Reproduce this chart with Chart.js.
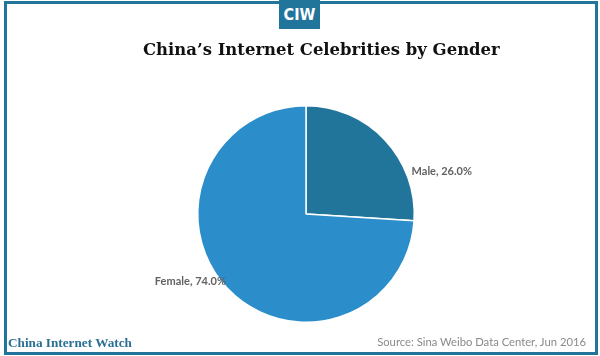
<!DOCTYPE html>
<html><head><meta charset="utf-8">
<script src="https://cdn.jsdelivr.net/npm/chart.js@4"></script>
<style>
html,body{margin:0;padding:0;background:#fff;}
#wrap{position:relative;width:600px;height:356px;overflow:hidden;background:#fff;}
#frame{position:absolute;left:4px;top:1px;width:588px;height:348px;border:3px solid #21759b;}
#logo{position:absolute;left:279px;top:0;width:41px;height:29px;background:#21759b;color:#fff;
 font-family:"Liberation Sans Narrow","DejaVu Sans Condensed",sans-serif;font-weight:bold;font-size:16px;
 text-align:center;line-height:30px;letter-spacing:0px;}
#title{position:absolute;left:143px;top:40px;white-space:nowrap;font-family:"DejaVu Serif","Liberation Serif",serif;
 font-weight:bold;font-size:19px;color:#111;}
#brand{position:absolute;left:8px;top:335px;white-space:nowrap;font-family:"Liberation Serif","DejaVu Serif",serif;font-weight:bold;font-size:13px;color:#2a6f93;}
#source{position:absolute;right:14px;top:335px;white-space:nowrap;font-family:Lato,"DejaVu Sans",sans-serif;font-size:12px;color:#8a8a8a;}
canvas{position:absolute;left:0;top:0;}
</style></head>
<body><div id="wrap">
<canvas id="c" width="600" height="356"></canvas>
<div id="frame"></div>
<div id="logo">CIW</div>
<div id="title">China’s Internet Celebrities by Gender</div>
<div id="brand">China Internet Watch</div>
<div id="source">Source: Sina Weibo Data Center, Jun 2016</div>
</div>
<script>
const categories = ["Male", "Female"];
const shares = [26.0, 74.0];
const colors = ["#21759b", "#2b8dc9"];

// fit texts to measured widths
(function(){
  const fit=(id,base,target)=>{const e=document.getElementById(id);const w=e.getBoundingClientRect().width;e.style.fontSize=(base*target/w).toFixed(2)+'px';};
  fit('title',19,357);
  fit('source',12,209);
  fit('brand',13,124);
})();

const labelPlugin = {
  id:'sliceLabels',
  afterDatasetsDraw(chart){
    const ctx=chart.ctx; const meta=chart.getDatasetMeta(0);
    ctx.save();
    ctx.font='bold 11px Lato, "DejaVu Sans", sans-serif';
    ctx.fillStyle='#626262'; ctx.textBaseline='middle';
    meta.data.forEach((arc,i)=>{
      const r=arc.outerRadius, cx=arc.x, cy=arc.y;
      const txt=categories[i]+', '+shares[i].toFixed(1)+'%';
      if(i===0){ ctx.textAlign='left'; ctx.fillText(txt,cx+0.975*r,cy-0.39*r); }
      else { ctx.textAlign='right'; ctx.fillText(txt,cx-0.74*r,cy+0.625*r); }
    });
    ctx.restore();
  }
};

new Chart(document.getElementById('c'),{
  type:'pie',
  data:{labels:categories,datasets:[{data:shares,backgroundColor:colors,borderColor:'#ffffff',borderWidth:1.5}]},
  options:{
    responsive:false,animation:false,
    layout:{padding:{left:197,right:185,top:105,bottom:33}},
    plugins:{legend:{display:false},tooltip:{enabled:false},title:{display:false}}
  },
  plugins:[labelPlugin]
});
</script>
</body></html>
